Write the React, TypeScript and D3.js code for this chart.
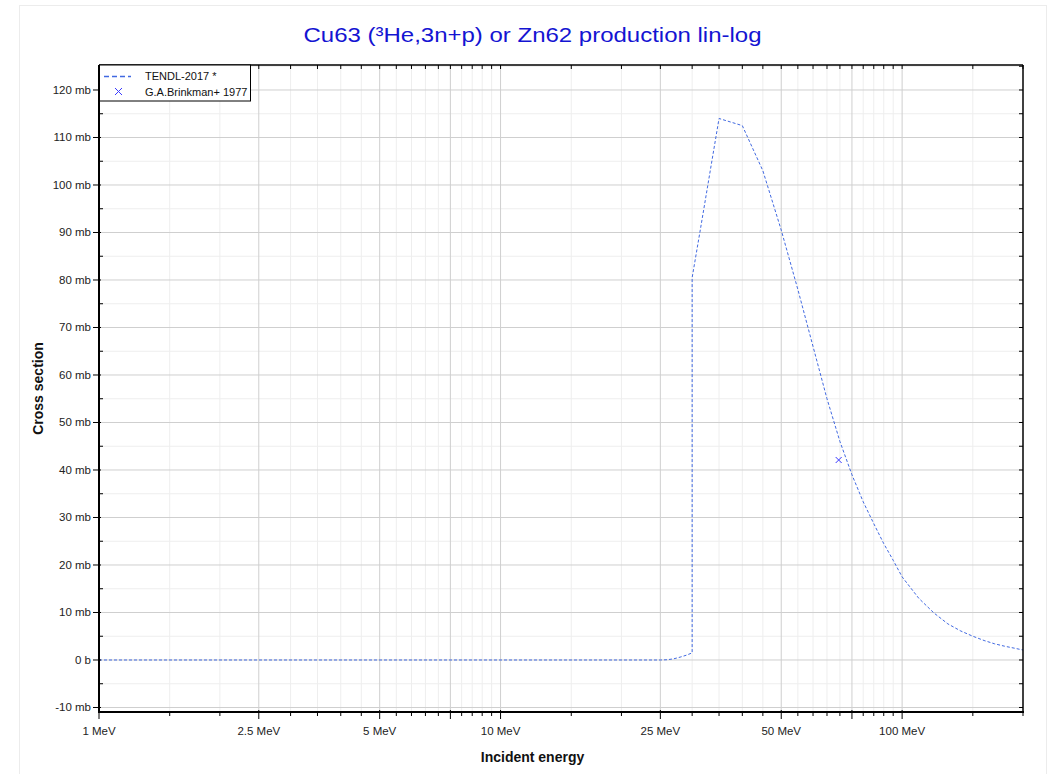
import * as d3 from 'd3';

// TENDL-2017 evaluation (MeV, mb)
const tendlEnergy = [1, 25, 26, 27, 28, 29, 30, 30, 31.5, 35, 40, 45, 50, 55, 60, 65, 70, 75, 80, 85, 90, 95, 100, 110, 120, 130, 140, 150, 160, 170, 180, 190, 200];
const tendlXs = [0, 0, 0.05, 0.25, 0.6, 1.0, 1.5, 80.5, 91, 114, 112.5, 103, 90.5, 78, 66, 55, 46, 39, 33.3, 28.7, 24.5, 21, 17.5, 13, 9.9, 7.6, 6.1, 5.0, 4.1, 3.4, 2.9, 2.5, 2.1];

// G.A.Brinkman+ 1977
const expEnergy = [69.5];
const expXs = [42.1];

const xLabelTicks = [1, 2.5, 5, 10, 25, 50, 100];
const xMajorTicks = [1, 2.5, 5, 7.5, 10, 25, 50, 75, 100];
const xMinorTicks = [1.5, 2, 3, 3.5, 4, 4.5, 5.5, 6, 6.5, 7, 8, 8.5, 9, 9.5, 15, 20, 30, 35, 40, 45, 55, 60, 65, 70, 80, 85, 90, 95, 150, 200];
const yMajorTicks = [-10, 0, 10, 20, 30, 40, 50, 60, 70, 80, 90, 100, 110, 120];
const yMinorTicks = [-5, 5, 15, 25, 35, 45, 55, 65, 75, 85, 95, 105, 115, 125];

const PLOT = { left: 99, right: 1023, top: 65, bottom: 712 };
const LINE_COLOR = '#4169e1';
const MARK_COLOR = '#3a3aff';
const FONT = 'Arial, "Liberation Sans", sans-serif';

const fmtE = (v: number) => `${v} MeV`;
const fmtXs = (v: number) => (v === 0 ? '0 b' : `${v} mb`);

export default function App() {
  const x = d3.scaleLog().domain([1, 200]).range([PLOT.left, PLOT.right]);
  const y = d3.scaleLinear().domain([-10.95, 125.26]).range([PLOT.bottom, PLOT.top]);

  const pts = tendlEnergy.map((e, i) => [e, tendlXs[i]] as [number, number]);
  const line = d3.line<[number, number]>().x((d) => x(d[0])).y((d) => y(d[1]));

  const midX = (19 + 1046) / 2;
  const midY = (PLOT.top + PLOT.bottom) / 2;

  return (
    <svg width={1060} height={774} style={{ position: 'absolute', left: 0, top: 0, fontFamily: FONT }}>
      <rect x={19.5} y={5.5} width={1027} height={800} fill="#fff" stroke="#ececec" />

      <text x={midX} y={42} textAnchor="middle" fontSize={21} fill="#1414d2" textLength={458} lengthAdjust="spacingAndGlyphs">
        Cu63 (³He,3n+p) or Zn62 production lin-log
      </text>

      {/* grid */}
      <g>
        {xMinorTicks.filter((t) => t < 200).map((t) => (
          <line key={'xm' + t} x1={x(t)} x2={x(t)} y1={PLOT.top} y2={PLOT.bottom} stroke="#eeeeee" />
        ))}
        {yMinorTicks.filter((t) => y(t) > PLOT.top).map((t) => (
          <line key={'ym' + t} x1={PLOT.left} x2={PLOT.right} y1={y(t)} y2={y(t)} stroke="#eeeeee" />
        ))}
        {xMajorTicks.map((t) => (
          <line key={'xM' + t} x1={x(t)} x2={x(t)} y1={PLOT.top} y2={PLOT.bottom} stroke="#cfcfcf" />
        ))}
        {yMajorTicks.map((t) => (
          <line key={'yM' + t} x1={PLOT.left} x2={PLOT.right} y1={y(t)} y2={y(t)} stroke="#cfcfcf" />
        ))}
      </g>

      {/* data */}
      <path d={line(pts) ?? ''} fill="none" stroke={LINE_COLOR} strokeWidth={1} strokeDasharray="3,2" />
      {expEnergy.map((e, i) => {
        const cx = x(e);
        const cy = y(expXs[i]);
        return (
          <g key={i} stroke={MARK_COLOR} strokeWidth={1}>
            <line x1={cx - 3} x2={cx + 3} y1={cy - 3} y2={cy + 3} />
            <line x1={cx - 3} x2={cx + 3} y1={cy + 3} y2={cy - 3} />
          </g>
        );
      })}

      {/* axes frame */}
      <line x1={PLOT.left} x2={PLOT.right} y1={PLOT.top} y2={PLOT.top} stroke="#000" strokeWidth={1.5} />
      <line x1={PLOT.right} x2={PLOT.right} y1={PLOT.top} y2={PLOT.bottom} stroke="#000" strokeWidth={1.5} />
      <line x1={PLOT.left} x2={PLOT.left} y1={PLOT.top} y2={PLOT.bottom + 1} stroke="#000" strokeWidth={2} />
      <line x1={PLOT.left - 1} x2={PLOT.right + 1} y1={PLOT.bottom} y2={PLOT.bottom} stroke="#000" strokeWidth={2} />

      {/* x ticks */}
      {[...xMajorTicks, ...xMinorTicks].map((t) => {
        const major = xMajorTicks.includes(t);
        return (
          <g key={'xt' + t} stroke="#000">
            <line x1={x(t)} x2={x(t)} y1={PLOT.bottom - (major ? 2 : 0)} y2={PLOT.bottom + (major ? 7 : 4)} />
            <line x1={x(t)} x2={x(t)} y1={PLOT.top} y2={PLOT.top + 4} />
          </g>
        );
      })}
      {xLabelTicks.map((t) => (
        <text key={'xl' + t} x={x(t)} y={735} textAnchor="middle" fontSize={11.5} fill="#222">
          {fmtE(t)}
        </text>
      ))}

      {/* y ticks */}
      {yMajorTicks.map((t) => (
        <g key={'yt' + t} stroke="#000">
          <line x1={PLOT.left - 6} x2={PLOT.left + 2} y1={y(t)} y2={y(t)} />
          <line x1={PLOT.right - 4} x2={PLOT.right} y1={y(t)} y2={y(t)} />
        </g>
      ))}
      {yMinorTicks.filter((t) => y(t) > PLOT.top).map((t) => (
        <g key={'yn' + t} stroke="#000">
          <line x1={PLOT.left} x2={PLOT.left + 4} y1={y(t)} y2={y(t)} />
          <line x1={PLOT.right - 4} x2={PLOT.right} y1={y(t)} y2={y(t)} />
        </g>
      ))}
      {yMajorTicks.map((t) => (
        <text key={'yl' + t} x={91} y={y(t) + 4} textAnchor="end" fontSize={11.5} fill="#222">
          {fmtXs(t)}
        </text>
      ))}

      {/* axis titles */}
      <text x={midX} y={762} textAnchor="middle" fontSize={14} fontWeight="bold" fill="#111">
        Incident energy
      </text>
      <text transform={`translate(43,${midY}) rotate(-90)`} textAnchor="middle" fontSize={14} fontWeight="bold" fill="#111">
        Cross section
      </text>

      {/* legend */}
      <g>
        <rect x={99.5} y={65} width={151} height={36} fill="#fff" stroke="#000" strokeWidth={1} />
        <line x1={104} x2={131} y1={76.5} y2={76.5} stroke={LINE_COLOR} strokeWidth={1.5} strokeDasharray="5,3" />
        <text x={145} y={80} fontSize={11} fill="#111">TENDL-2017 *</text>
        <g stroke={MARK_COLOR} strokeWidth={1}>
          <line x1={115} x2={122} y1={88} y2={95} />
          <line x1={115} x2={122} y1={95} y2={88} />
        </g>
        <text x={145} y={96} fontSize={11} fill="#111">G.A.Brinkman+ 1977</text>
      </g>
    </svg>
  );
}
